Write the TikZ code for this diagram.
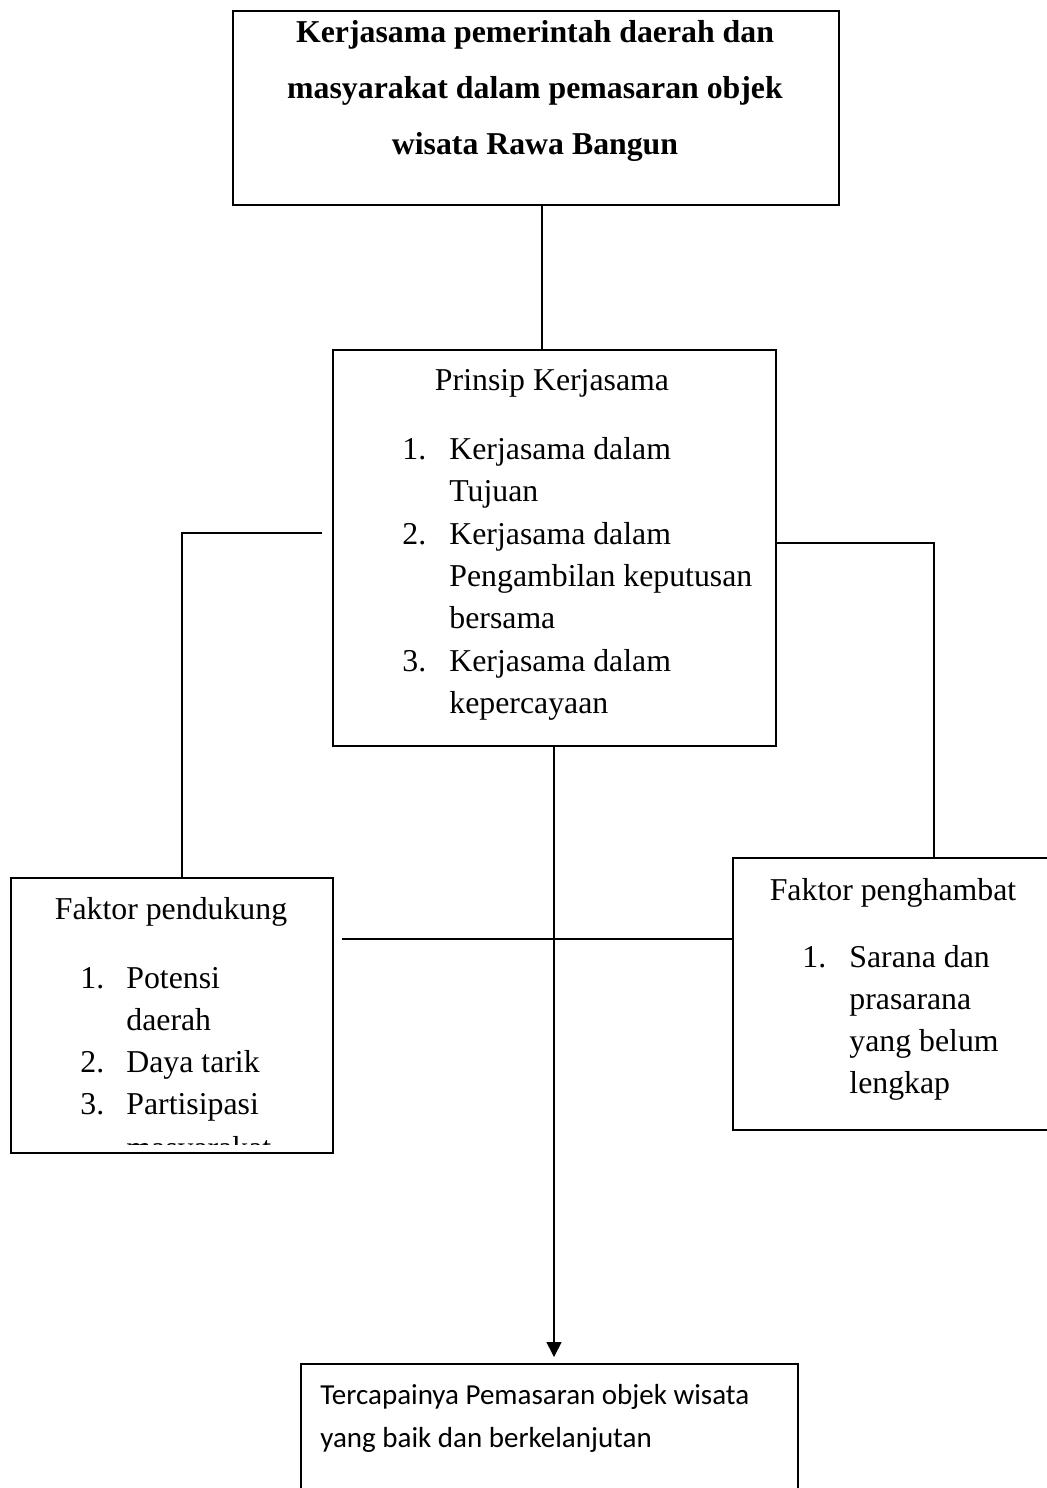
\documentclass[tikz,border=0pt]{standalone}
\usepackage{fontspec}
\setmainfont{Liberation Serif}
\newfontfamily\calibrifont{Carlito}
\usetikzlibrary{arrows.meta}
\begin{document}
\begin{tikzpicture}[x=0.5pt,y=-0.5pt,
  box/.style={draw, line width=0.8pt, rectangle, inner sep=0pt, anchor=north west},
  conn/.style={line width=0.8pt},
  txt/.style={inner sep=0pt, font=\fontsize{15.9pt}{19pt}\selectfont},
  btxt/.style={txt, font=\fontsize{15.9pt}{19pt}\selectfont\bfseries},
  ctxt/.style={inner sep=0pt, font=\fontsize{14.5pt}{18pt}\selectfont\calibrifont}]
\useasboundingbox[fill=white] (0,0) rectangle (1047,1488);

% boxes
\node[box, minimum width=303pt, minimum height=97pt] (top) at (232,10) {};
\node[box, minimum width=221.5pt, minimum height=198pt] (mid) at (332,349) {};
\node[box, minimum width=161pt, minimum height=137.5pt] (left) at (10,877) {};
\node[box, minimum width=170pt, minimum height=136pt] (right) at (732,857) {};
\node[box, minimum width=248.5pt, minimum height=70pt] (bottom) at (300,1363) {};

% top box text
\node[btxt, anchor=base] (t1) at (535,42) {Kerjasama pemerintah daerah dan};
\node[btxt, anchor=base] (t2) at (535,98) {masyarakat dalam pemasaran objek};
\node[btxt, anchor=base] (t3) at (535,154) {wisata Rawa Bangun};

% middle box text
\node[txt, anchor=base] (m0) at (552,390) {Prinsip Kerjasama};
\node[txt, anchor=base west] (mn1) at (402,459) {1.};
\node[txt, anchor=base west] (m1) at (449,459) {Kerjasama dalam};
\node[txt, anchor=base west] (m2) at (449,501) {Tujuan};
\node[txt, anchor=base west] (mn2) at (402,544) {2.};
\node[txt, anchor=base west] (m3) at (449,544) {Kerjasama dalam};
\node[txt, anchor=base west] (m4) at (449,586) {Pengambilan keputusan};
\node[txt, anchor=base west] (m5) at (449,628) {bersama};
\node[txt, anchor=base west] (mn3) at (402,671) {3.};
\node[txt, anchor=base west] (m6) at (449,671) {Kerjasama dalam};
\node[txt, anchor=base west] (m7) at (449,713) {kepercayaan};

% left box text
\node[txt, anchor=base] (l0) at (171,919) {Faktor pendukung};
\node[txt, anchor=base west] (ln1) at (80,988) {1.};
\node[txt, anchor=base west] (l1) at (126,988) {Potensi};
\node[txt, anchor=base west] (l2) at (126,1030) {daerah};
\node[txt, anchor=base west] (ln2) at (80,1072) {2.};
\node[txt, anchor=base west] (l3) at (126,1072) {Daya tarik};
\node[txt, anchor=base west] (ln3) at (80,1114) {3.};
\node[txt, anchor=base west] (l4) at (126,1114) {Partisipasi};
\begin{scope}
\clip (12,879) rectangle (330,1144);
\node[txt, anchor=base west] (l5) at (126,1158) {masyarakat};
\end{scope}

% right box text
\node[txt, anchor=base] (r0) at (893,900) {Faktor penghambat};
\node[txt, anchor=base west] (rn1) at (802,967) {1.};
\node[txt, anchor=base west] (r1) at (849,967) {Sarana dan};
\node[txt, anchor=base west] (r2) at (849,1009) {prasarana};
\node[txt, anchor=base west] (r3) at (849,1051) {yang belum};
\node[txt, anchor=base west] (r4) at (849,1093) {lengkap};

% bottom box text
\node[ctxt, anchor=base west] (b1) at (320,1404) {Tercapainya Pemasaran objek wisata};
\node[ctxt, anchor=base west] (b2) at (320,1447) {yang baik dan berkelanjutan};

% connectors
\coordinate (lstart) at (322,533);
\coordinate (hstart) at (342,939);
\coordinate (atip) at (554,1357);
\draw[conn] (top.south -| 542,0) -- (mid.north -| 542,0);
\draw[conn] (lstart) -| (left.north -| 182,0);
\draw[conn] (mid.east |- 0,543) -| (right.north -| 934,0);
\draw[conn] (hstart) -- (right.west |- hstart);
\draw[conn, -{Triangle[width=7.5pt,length=7.5pt]}] (mid.south -| atip) -- (atip);
\end{tikzpicture}
\end{document}
